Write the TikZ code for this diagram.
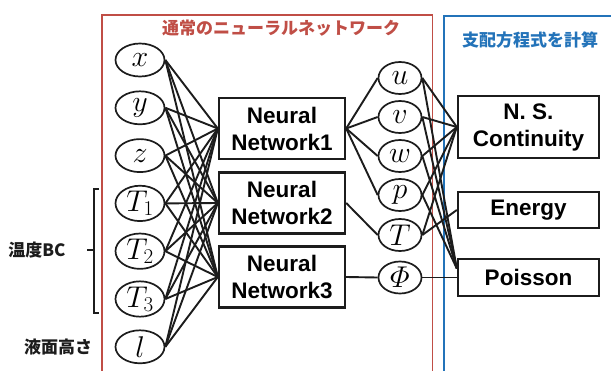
\documentclass[tikz,border=0pt]{standalone}
\usepackage{fix-cm}
\usepackage{amsmath}
\usepackage{fontspec}
\newfontfamily\jp{Noto Sans CJK JP}
\newfontfamily\lsans{Liberation Sans}
\usetikzlibrary{shapes.geometric}
\definecolor{redbox}{RGB}{192,78,70}
\definecolor{bluebox}{RGB}{35,115,185}
\definecolor{ink}{RGB}{28,28,28}
\begin{document}
\begin{tikzpicture}[x=1pt,y=-1pt,
  inp/.style={ellipse,draw=ink,line width=1.7pt,fill=white,minimum width=49pt,minimum height=33pt,inner sep=0pt,font=\fontsize{30}{30}\selectfont},
  outp/.style={inp,minimum width=43pt,minimum height=32pt},
  nnbox/.style={draw=ink,line width=2.4pt,fill=white,minimum width=126pt,minimum height=61pt,inner sep=0pt,align=center,font=\lsans\bfseries\fontsize{22.5}{27}\selectfont},
  eqbox/.style={nnbox,minimum width=141pt},
  link/.style={draw=ink,line width=1.9pt},
  jplabel/.style={font=\jp\bfseries\fontsize{17}{17}\selectfont},
]
\useasboundingbox (0,0) rectangle (611,370);
\fill[white] (0,0) rectangle (611,370);

% frames
\draw[redbox,line width=1.3pt] (102,380) -- (102,15) -- (432.5,15) -- (432.5,380);
\draw[bluebox,line width=1.3pt] (444,380) -- (444,16) -- (620,16);
\node[jplabel,text=redbox] (rt) at (281,28) {通常のニューラルネットワーク};
\node[jplabel,text=bluebox] (bt) at (530,40) {支配方程式を計算};

% inputs
\node[inp] (x)  at (140,60)    {$x$};
\node[inp] (y)  at (140,107.8) {$y$};
\node[inp] (z)  at (140,155.6) {$z$};
\node[inp] (t1) at (140,203.4) {$T_1$};
\node[inp] (t2) at (140,251.2) {$T_2$};
\node[inp] (t3) at (140,299)   {$T_3$};
\node[inp] (l)  at (140,346.8) {$l$};

% networks
\node[nnbox] (n1) at (282,128.5) {Neural\\Network1};
\node[nnbox] (n2) at (282,203)   {Neural\\Network2};
\node[nnbox] (n3) at (282,277)   {Neural\\Network3};

% outputs
\node[outp] (u)   at (400,78)  {$u$};
\node[outp] (v)   at (400,117) {$v$};
\node[outp] (w)   at (400,156) {$w$};
\node[outp] (p)   at (400,195) {$p$};
\node[outp] (T)   at (400,235) {$T$};
\node[outp] (Phi) at (400,277.5) {$\varPhi$};

% equation boxes
\node[eqbox,minimum height=62pt] (ns) at (528.5,127) {N. S.\\Continuity};
\node[eqbox,minimum height=36pt] (en) at (528.5,210) {Energy};
\node[eqbox,minimum height=37pt] (po) at (528.5,277.5) {Poisson};

% links inputs -> networks
\foreach \i in {x,y,z,t1,t2,t3,l}
  \foreach \n in {n1,n2,n3}
    \draw[link] (\i.east) -- (\n.west);

% networks -> outputs
\foreach \o in {u,v,w,p}
  \draw[link] (n1.east) -- (\o.west);
\draw[link] (n2.east) -- (T.west);
\draw[link] (n3.east) -- (Phi.west);

% outputs -> equations
\foreach \o in {u,v,w,p,T}
  \draw[link] (\o.east) -- (ns.west);
\foreach \o in {u,v,w,p}
  \draw[link] (\o.east) -- ([yshift=9pt]po.west);
\draw[link] (T.east) -- (en.west);
\draw[link] (Phi.east) -- (po.west);

% side labels
\node[jplabel,text=ink] (bc) at (37,250) {温度BC};
\node[jplabel,text=ink] (ek) at (58,347) {液面高さ};
\draw[ink,line width=1.1pt] (99,189) -- (94,189) -- (94,313) -- (99,313);
\draw[ink,line width=1.1pt] (94,250) -- (87,250);
\end{tikzpicture}
\end{document}
